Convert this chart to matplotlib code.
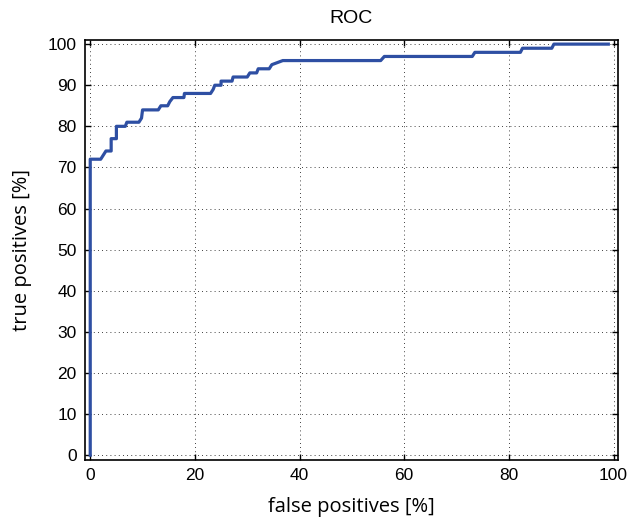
import matplotlib
matplotlib.use("Agg")
import matplotlib.pyplot as plt

plt.rcParams["font.family"] = ["Liberation Sans", "DejaVu Sans"]

# ROC curve vertices (percent)
fpr = [0, 0, 2, 2.5, 3, 4, 4, 5, 5, 6.7, 7, 9.3, 9.8, 10, 13, 13.5, 14.8, 15.2, 15.8,
       17.9, 18, 23, 23.5, 23.8, 25, 25, 27.1, 27.3, 30, 30.5, 31.8, 32.1, 34.2,
       34.7, 36.8, 55.5, 56.2, 73, 73.5, 82.2, 82.6, 88.2, 88.6, 99]
tpr = [0, 72, 72, 73, 74, 74, 77, 77, 80, 80, 81, 81, 82, 84, 84, 85, 85, 86, 87,
       87, 88, 88, 89, 90, 90, 91, 91, 92, 92, 93, 93, 94, 94,
       95, 96, 96, 97, 97, 98, 98, 99, 99, 100, 100]

xticks = [0, 20, 40, 60, 80, 100]
yticks = list(range(0, 101, 10))

fig = plt.figure(figsize=(6.41, 5.19), dpi=100)
ax = fig.add_axes([0.1326, 0.1143, 0.8311, 0.8086])

ax.plot(fpr, tpr, color="#2e4fa3", linewidth=2.3)

ax.set_xlim(-1, 100.8)
ax.set_ylim(-1.1, 101)
ax.set_xticks(xticks)
ax.set_yticks(yticks)
ax.grid(True, linestyle=(0, (1, 4)), color="black", linewidth=0.6)
ax.tick_params(direction="in", top=True, right=True, length=4, width=1,
               labelsize=12.5, pad=6)
for s in ax.spines.values():
    s.set_linewidth(1.2)

ax.set_xlabel("false positives [%]", fontsize=14.5, family="Open Sans", labelpad=10)
ax.set_ylabel("true positives [%]", fontsize=14.5, family="Open Sans", labelpad=11)
ax.set_title("ROC", fontsize=14, pad=12)

fig.savefig("out.png", dpi=100)
